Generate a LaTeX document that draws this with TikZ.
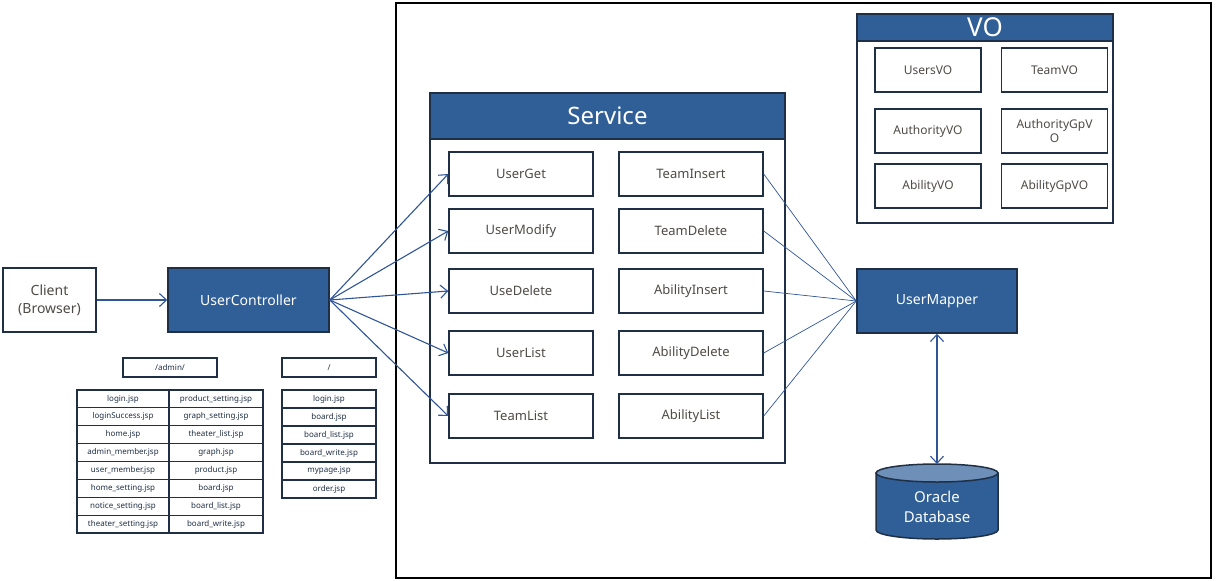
\documentclass[tikz,border=0pt]{standalone}
\usepackage{fontspec}
\setmainfont{Noto Sans}
\usetikzlibrary{arrows.meta}
\definecolor{navy}{HTML}{1F2F45}
\definecolor{blockblue}{HTML}{2F5F96}
\definecolor{lineblue}{HTML}{2F5597}
\definecolor{txt}{HTML}{4F4A45}
\definecolor{dbtop}{HTML}{6E8FB7}
\tikzset{
  box/.style={draw=navy, line width=1.5pt, fill=white, text=txt, inner sep=0pt,
    align=center, font=\fontsize{13}{15}\selectfont},
  bluebox/.style={box, fill=blockblue, text=white},
  svc/.style={box, minimum width=144, minimum height=44},
  vo/.style={box, minimum width=106, minimum height=44, font=\fontsize{12}{14}\selectfont},
  cell/.style={box, line width=1.2pt, minimum height=17.9, text=navy,
    font=\fontsize{8}{9}\selectfont},
  call/.style={draw=lineblue, line width=1.1pt, -{Straight Barb[length=7pt,width=13pt]}},
  link/.style={draw=lineblue, line width=0.7pt},
  frame/.style={draw=black, line width=2pt, inner sep=0pt}
}
\begin{document}
\begin{tikzpicture}[x=1pt,y=-1pt]
\useasboundingbox (0,0) rectangle (1216,581);

% back-end frame
\node[frame, minimum width=815, minimum height=575] (backend) at (803.5,290.5) {};

% client and controller
\node[box, minimum width=93, minimum height=64, font=\fontsize{14}{18}\selectfont] (client) at (49.5,300) {Client\\(Browser)};
\node[bluebox, minimum width=161, minimum height=64, font=\fontsize{14}{18}\selectfont] (ctrl) at (248.5,300) {UserController};
\draw[call] (client) -- (ctrl);

% service container
\node[box, minimum width=355, minimum height=370] (service) at (607.5,278) {};
\node[bluebox, minimum width=355, minimum height=46, font=\fontsize{24}{28}\selectfont] (svchead) at (607.5,116) {Service};

\node[svc] (userget)    at (521,174) {UserGet};
\node[svc] (usermodify) at (521,231) {UserModify};
\node[svc] (usedelete)  at (521,291) {UseDelete};
\node[svc] (userlist)   at (521,353) {UserList};
\node[svc] (teamlist)   at (521,416) {TeamList};

\node[svc] (teaminsert)    at (691,174) {TeamInsert};
\node[svc] (teamdelete)    at (691,231) {TeamDelete};
\node[svc] (abilityinsert) at (691,291) {AbilityInsert};
\node[svc] (abilitydelete) at (691,353) {AbilityDelete};
\node[svc] (abilitylist)   at (691,416) {AbilityList};

% mapper and database
\node[bluebox, minimum width=160, minimum height=64, font=\fontsize{14}{18}\selectfont] (mapper) at (937,301) {UserMapper};

\filldraw[fill=blockblue, draw=navy, line width=1.5pt]
  (876,473) -- (876,530) arc[start angle=180, end angle=0, x radius=61, y radius=9]
  -- (998,473) -- cycle;
\filldraw[fill=dbtop, draw=navy, line width=1.5pt] (937,473) ellipse[x radius=61, y radius=9];
\coordinate (dbtopedge) at (937,464);
\node[text=white, align=center, font=\fontsize{15}{20}\selectfont] (db) at (937,507) {Oracle\\Database};

% controller calls into the services
\foreach \s in {userget,usermodify,usedelete,userlist,teamlist}
  \draw[call] (ctrl.east) -- (\s.west);

% services use the mapper
\foreach \s in {teaminsert,teamdelete,abilityinsert,abilitydelete,abilitylist}
  \draw[link] (\s.east) -- (mapper.west);

\draw[call, {Straight Barb[length=7pt,width=13pt]}-{Straight Barb[length=7pt,width=13pt]}] (mapper.south) -- (dbtopedge);

% value objects
\node[box, minimum width=256, minimum height=209] (voarea) at (985,118.5) {};
\node[bluebox, minimum width=256, minimum height=27, font=\fontsize{26}{28}\selectfont] (vohead) at (985,27.5) {VO};
\node[vo] (usersvo)    at (928,70)    {UsersVO};
\node[vo] (teamvo)     at (1054.5,70) {TeamVO};
\node[vo] (authvo)     at (928,131)   {AuthorityVO};
\node[vo] (authgpvo)   at (1054.5,131){AuthorityGpV\\O};
\node[vo] (abilityvo)  at (928,186)   {AbilityVO};
\node[vo] (abilitygpvo) at (1054.5,186){AbilityGpVO};

% view pages
\node[cell, minimum width=94, minimum height=19] (adminpath) at (170,367.5) {/admin/};
\node[cell, minimum width=94, minimum height=19] (rootpath) at (329,367.5) {/};

\foreach \t [count=\i] in {login.jsp, loginSuccess.jsp, home.jsp, admin\_member.jsp,
    user\_member.jsp, home\_setting.jsp, notice\_setting.jsp, theater\_setting.jsp}
  \node[cell, minimum width=92] (al\i) at (123,{390+17.875*(\i-0.5)}) {\t};
\foreach \t [count=\i] in {product\_setting.jsp, graph\_setting.jsp, theater\_list.jsp, graph.jsp,
    product.jsp, board.jsp, board\_list.jsp, board\_write.jsp}
  \node[cell, minimum width=94] (ar\i) at (216,{390+17.875*(\i-0.5)}) {\t};
\foreach \t [count=\i] in {login.jsp, board.jsp, board\_list.jsp, board\_write.jsp,
    mypage.jsp, order.jsp}
  \node[cell, minimum width=94, minimum height=18] (r\i) at (329,{390+18*(\i-0.5)}) {\t};
\end{tikzpicture}
\end{document}
